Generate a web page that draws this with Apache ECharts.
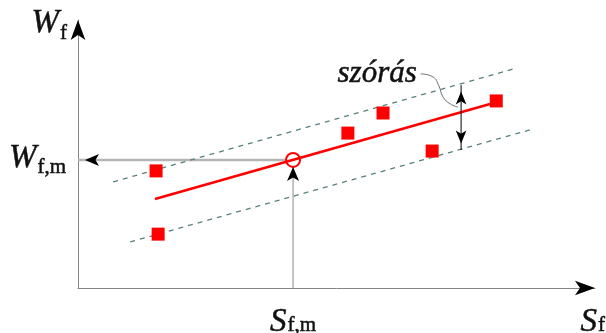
<!DOCTYPE html>
<html>
<head>
<meta charset="utf-8">
<script src="https://cdn.jsdelivr.net/npm/echarts@6/dist/echarts.min.js"></script>
<style>html,body{margin:0;padding:0;background:#fff}#c{width:606px;height:333px}</style>
</head>
<body>
<div id="c"></div>
<script>
// ---- data (abstract units, x: 0..10, y: 0..10) ----
const pointsX = [1.51, 1.55, 5.22, 5.90, 6.85, 8.09];
const pointsY = [4.37, 2.01, 5.78, 6.53, 5.11, 6.98];
const fitX = [1.49, 7.97];
const fitY = [3.32, 6.87];
const upperX = [0.68, 8.49];
const upperY = [3.96, 8.21];
const lowerX = [1.01, 8.80];
const lowerY = [1.72, 5.93];
const meanS = 4.16;
const meanW = 4.78;
const spreadX = 7.41;
const spreadY = [5.15, 7.57];
const leaderX = [6.63, 6.87, 6.98, 7.06, 7.20, 7.35];
const leaderY = [7.99, 7.87, 7.54, 7.13, 6.87, 6.75];
const axisMax = 10;
const labelYName = ['W', 'f'];
const labelXName = ['S', 'f'];
const labelYMean = ['W', 'f,m'];
const labelXMean = ['S', 'f,m'];
const spreadLabel = 'szórás';

const zip = (xs, ys) => xs.map((x, i) => [x, ys[i]]);
const serif = '"Liberation Serif", "Times New Roman", serif';
const ink = '#111';
const thick = { textBorderColor: ink, textBorderWidth: 0.5 };
const richY = {
  w: Object.assign({ fontFamily: serif, fontStyle: 'italic', fontSize: 33, lineHeight: 33, color: ink, padding: [0, 1, 4, 0], verticalAlign: 'bottom' }, thick),
  s: Object.assign({ fontFamily: serif, fontSize: 21, lineHeight: 21, color: ink, verticalAlign: 'bottom' }, thick)
};
const richX = {
  w: Object.assign({ fontFamily: serif, fontStyle: 'italic', fontSize: 33, lineHeight: 33, color: ink, padding: [0, 1, 0, 0], verticalAlign: 'bottom' }, thick),
  s: Object.assign({ fontFamily: serif, fontSize: 21, lineHeight: 21, color: ink, padding: [0, 0, 3, 0], verticalAlign: 'bottom' }, thick)
};
const sub = (a) => '{w|' + a[0] + '}{s|' + a[1] + '}';
const arrowColor = '#000';

const option = {
  animation: false,
  backgroundColor: '#fff',
  grid: { left: 78, top: 20, width: 517, height: 268, outerBoundsMode: 'none' },
  xAxis: {
    type: 'value', min: 0, max: axisMax,
    axisLine: { show: true, onZero: false, lineStyle: { color: '#858585', width: 1 } },
    axisTick: { show: false }, splitLine: { show: false },
    axisLabel: { show: true, customValues: [meanS], formatter: () => sub(labelXMean), margin: 18, rich: richX },
    name: sub(labelXName), nameLocation: 'end', nameGap: 10, nameMoveOverlap: false,
    nameTextStyle: { align: 'right', verticalAlign: 'top', padding: [18, 0, 0, 0], rich: richX }
  },
  yAxis: {
    type: 'value', min: 0, max: axisMax,
    axisLine: { show: true, onZero: false, lineStyle: { color: '#858585', width: 1 } },
    axisTick: { show: false }, splitLine: { show: false },
    axisLabel: { show: true, customValues: [meanW], formatter: () => sub(labelYMean), margin: 12,
      padding: [4, 0, 0, 0], rich: richY },
    name: sub(labelYName), nameLocation: 'end', nameGap: -7, nameMoveOverlap: false,
    nameTextStyle: { align: 'right', verticalAlign: 'middle', padding: [0, 11, 0, 0], rich: richY }
  },
  series: [
    // horizontal guide W_f,m
    { type: 'line', data: [[0, meanW], [meanS, meanW]], symbol: 'none', z: 1, silent: true,
      lineStyle: { color: '#b5b5b5', width: 2.5 } },
    // vertical guide S_f,m
    { type: 'line', data: [[meanS, 0], [meanS, meanW]], symbol: 'none', z: 1, silent: true,
      lineStyle: { color: '#8a8a8a', width: 1 } },
    // dashed band lines
    { type: 'line', data: zip(upperX, upperY), symbol: 'none', z: 2,
      lineStyle: { color: '#55807f', width: 1.3, type: [5, 5] } },
    { type: 'line', data: zip(lowerX, lowerY), symbol: 'none', z: 2,
      lineStyle: { color: '#55807f', width: 1.3, type: [5, 5] } },
    // white circle fill hiding the guide ends
    { type: 'scatter', data: [[meanS, meanW]], symbol: 'circle', symbolSize: 14, z: 3, clip: false,
      itemStyle: { color: '#fff', opacity: 1 } },
    // regression line
    { type: 'line', data: zip(fitX, fitY), symbol: 'none', z: 4,
      lineStyle: { color: '#ff0000', width: 2.6 } },
    // circle outline
    { type: 'scatter', data: [[meanS, meanW]], symbol: 'circle', symbolSize: 14, z: 5, clip: false,
      itemStyle: { color: 'rgba(0,0,0,0)', borderColor: '#ff0000', borderWidth: 2, opacity: 1 } },
    // measured points
    { type: 'scatter', data: zip(pointsX, pointsY), symbol: 'rect', symbolSize: 13, z: 5,
      itemStyle: { color: '#ff0000', opacity: 1 } },
    // spread double arrow
    { type: 'line', data: [[spreadX, spreadY[0]], [spreadX, spreadY[1]]], symbol: 'none', z: 5,
      lineStyle: { color: '#000', width: 1 } },
    // leader curve
    { type: 'line', data: zip(leaderX, leaderY), symbol: 'none', smooth: 0.5, z: 5,
      lineStyle: { color: '#707070', width: 1 } },
    // arrowheads
    { type: 'scatter', symbol: 'arrow', clip: false, z: 10, itemStyle: { color: arrowColor, opacity: 1 },
      data: [
        { value: [axisMax, 0], symbolSize: [11, 20], symbolRotate: -90 },
        { value: [0, axisMax], symbolSize: [11, 20], symbolRotate: 0 },
        { value: [0, meanW], symbolSize: [9, 14], symbolRotate: 90, symbolOffset: [7, 0] },
        { value: [meanS, meanW], symbolSize: [9, 14], symbolRotate: 0, symbolOffset: [0, 7] },
        { value: [spreadX, spreadY[1]], symbolSize: [8, 13], symbolRotate: 0, symbolOffset: [0, 6.5] },
        { value: [spreadX, spreadY[0]], symbolSize: [8, 13], symbolRotate: 180, symbolOffset: [0, -6.5] }
      ] }
  ]
};
const chart = echarts.init(document.getElementById('c'), null, { renderer: 'canvas' });
chart.setOption(option);
// spread label anchored at the leader-curve start, converted through the chart's own scales
const anchor = chart.convertToPixel({ gridIndex: 0 }, [leaderX[0], leaderY[0]]);
chart.setOption({
  graphic: [{
    type: 'text', x: anchor[0] - 4, y: anchor[1], z: 20,
    style: { text: spreadLabel, align: 'right', verticalAlign: 'middle',
      fontFamily: serif, fontStyle: 'italic', fontSize: 31, fill: ink, stroke: ink, lineWidth: 0.5 }
  }]
});
</script>
</body>
</html>
